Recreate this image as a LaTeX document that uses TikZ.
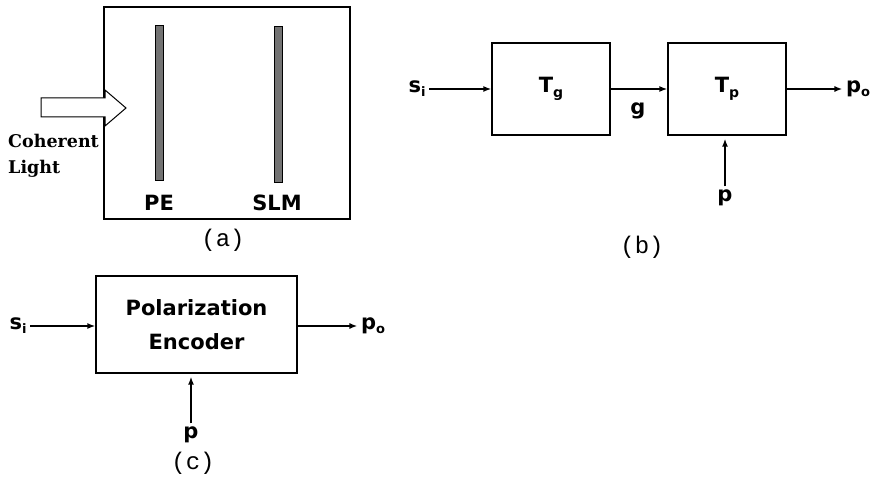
\documentclass[tikz,border=0pt]{standalone}
\usepackage{fontspec}
\setmainfont{DejaVu Sans}
\newfontfamily\lightfont{DejaVu Serif}
\newfontfamily\capfont{Liberation Mono}
\usetikzlibrary{arrows.meta}

\newcommand{\sigsub}[2]{{\bfseries #1\raisebox{-0.35ex}{\fontsize{13}{13}\selectfont #2}}}

\begin{document}
\begin{tikzpicture}[x=1pt,y=-1pt,
    blk/.style={draw, line width=1.3pt, inner sep=0pt},
    lbl/.style={font=\bfseries\fontsize{21}{21}\selectfont},
    sig/.style={line width=1.6pt, -{Latex[length=8pt,width=6pt]}},
    subcap/.style={font=\capfont\fontsize{24}{24}\selectfont}]
  \useasboundingbox (0,0) rectangle (873,481);

  % (a)
  \draw[line width=1.3pt] (104,7) rectangle (350,219);
  \foreach \x/\ytop/\ybot in {155/25/180, 274/26/182}{
    \filldraw[fill=black!55, line width=0.8pt] (\x,\ytop) rectangle (\x+8,\ybot);
  }
  \draw[line width=1pt, fill=white] (41,98) -- (105,98) -- (105,90) -- (126,108)
    -- (105,126) -- (105,117) -- (41,117) -- cycle;
  \node[lbl] (pe) at (159,203) {PE};
  \node[lbl] (slm) at (277,203) {SLM};
  \node[anchor=north west, align=left, inner sep=0pt,
    font=\lightfont\bfseries\fontsize{17.5}{26}\selectfont] (light) at (8,134) {Coherent\\Light};
  \node[subcap] (capa) at (223,240) {(a)};

  % (b)
  \node[blk, minimum width=118pt, minimum height=92pt] (tg) at (551,89) {};
  \node[blk, minimum width=118pt, minimum height=92pt] (tp) at (727,89) {};
  \node[lbl] at (tg) {T\raisebox{-0.4ex}{\fontsize{14}{14}\selectfont g}};
  \node[lbl] at (tp) {T\raisebox{-0.4ex}{\fontsize{14}{14}\selectfont p}};
  \node[lbl] (si) at (417,89) {\sigsub{s}{i}};
  \node[lbl] (g) at (638,111) {g};
  \node[lbl] (po) at (858,89) {\sigsub{p}{o}};
  \node[lbl] (pb) at (725,198) {p};
  \draw[sig] (si) -- (tg);
  \draw[sig] (tg) -- (tp);
  \draw[sig] (tp) -- (po);
  \draw[sig, shorten >=3pt] (pb) -- (pb |- tp.south);
  \node[subcap] (capb) at (642,247) {(b)};

  % (c)
  \node[blk, minimum width=201pt, minimum height=97pt, align=center,
    font=\bfseries\fontsize{21}{34}\selectfont] (enc) at (196.5,324.5) {Polarization\\Encoder};
  \node[lbl] (si2) at (18,326) {\sigsub{s}{i}};
  \node[lbl] (po2) at (373,326) {\sigsub{p}{o}};
  \node[lbl] (pc) at (191,435) {p};
  \draw[sig] (si2) -- (si2 -| enc.west);
  \draw[sig] (po2 -| enc.east) -- (po2);
  \draw[sig, shorten >=3pt] (pc) -- (pc |- enc.south);
  \node[subcap] (capc) at (193,463) {(c)};
\end{tikzpicture}
\end{document}
